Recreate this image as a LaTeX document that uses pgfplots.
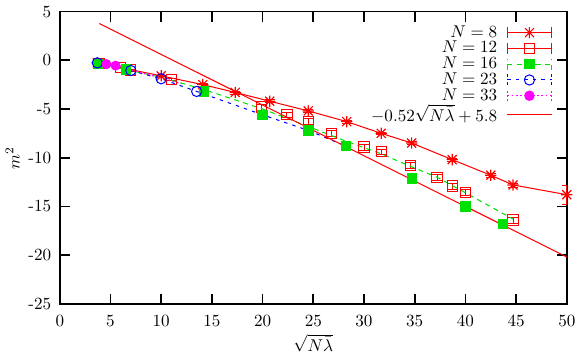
\documentclass[border=0pt]{standalone}
\usepackage{pgfplots}
\pgfplotsset{compat=1.18}
\definecolor{gred}{rgb}{1,0,0}
\definecolor{ggreen}{rgb}{0,0.88,0}
\definecolor{gblue}{rgb}{0,0,1}
\definecolor{gmag}{rgb}{1,0,1}
\pgfdeclareplotmark{gstar}{%
  \pgfpathmoveto{\pgfqpoint{-\pgfplotmarksize}{0pt}}\pgfpathlineto{\pgfqpoint{\pgfplotmarksize}{0pt}}%
  \pgfpathmoveto{\pgfqpoint{0pt}{-\pgfplotmarksize}}\pgfpathlineto{\pgfqpoint{0pt}{\pgfplotmarksize}}%
  \pgfpathmoveto{\pgfqpoint{-0.8\pgfplotmarksize}{-0.8\pgfplotmarksize}}\pgfpathlineto{\pgfqpoint{0.8\pgfplotmarksize}{0.8\pgfplotmarksize}}%
  \pgfpathmoveto{\pgfqpoint{-0.8\pgfplotmarksize}{0.8\pgfplotmarksize}}\pgfpathlineto{\pgfqpoint{0.8\pgfplotmarksize}{-0.8\pgfplotmarksize}}%
  \pgfusepathqstroke}
\pgfplotsset{
  gkey/.style={legend image code/.code={%
    \draw (0pt,0pt) -- (26pt,0pt);
    \draw (0pt,-3.2pt) -- (0pt,3.2pt) (26pt,-3.2pt) -- (26pt,3.2pt);
    \draw plot[only marks, mark options={solid}] coordinates {(13pt,0pt)};
  }},
  fkey/.style={legend image code/.code={\draw (0pt,0pt) -- (26pt,0pt);}},
}
\pgfplotstableread{
x y e
3.7 -0.27 0.05
10.0 -1.6 0.1
14.1 -2.5 0.15
17.3 -3.3 0.15
20.7 -4.2 0.15
24.5 -5.2 0.15
28.3 -6.3 0.15
31.7 -7.5 0.15
34.7 -8.5 0.15
38.7 -10.2 0.15
42.5 -11.8 0.2
44.7 -12.8 0.2
50.0 -13.8 1.0
}\neight
\pgfplotstableread{
x y e
3.9 -0.3 0.1
6.0 -0.75 0.1
7.0 -1.0 0.1
11.0 -2.0 0.1
19.9 -4.8 0.3
22.4 -5.6 0.3
24.5 -6.3 0.3
26.8 -7.5 0.3
30.0 -8.9 0.3
31.7 -9.4 0.3
34.6 -10.8 0.3
37.2 -12.0 0.3
38.7 -12.9 0.3
40.0 -13.6 0.3
44.7 -16.4 0.3
}\ntwelve
\pgfplotstableread{
x y
3.8 -0.35
6.5 -0.95
14.2 -3.2
20.0 -5.6
24.5 -7.2
28.2 -8.8
34.7 -12.1
40.0 -15.0
43.7 -16.8
}\nsixteen
\pgfplotstableread{
x y
3.8 -0.3
5.0 -0.55
6.5 -0.95
10.0 -1.75
14.2 -3.0
20.0 -5.0
24.5 -6.8
28.2 -8.3
31.7 -9.6
34.6 -10.9
37.2 -12.0
40.0 -13.6
44.7 -16.3
}\greenline
\pgfplotstableread{
x y
3.7 -0.27
7.0 -1.05
10.0 -1.9
13.5 -3.2
}\ntwentythree
\pgfplotstableread{
x y
3.7 -0.27
7.0 -1.05
10.0 -1.9
13.5 -3.2
20.0 -5.6
24.5 -7.2
28.2 -8.8
}\blueline
\pgfplotstableread{
x y
4.6 -0.4
5.5 -0.55
}\nthirtythree
\pgfplotstableread{
x y
4.6 -0.4
5.5 -0.55
7.0 -1.0
10.0 -1.8
12.0 -2.4
}\magline
\pgfplotstableread{
x y
3.9 3.77
50.0 -20.2
}\fitline
\begin{document}
\begin{tikzpicture}
\begin{axis}[
  scale only axis, width=297pt, height=171.2pt,
  xmin=0, xmax=50, ymin=-25, ymax=5,
  xtick={0,5,...,50}, ytick={-25,-20,...,5},
  xticklabels={0,5,10,15,20,25,30,35,40,45,50},
  yticklabels={-25,-20,-15,-10,-5,0,5},
  tick align=inside, major tick length=5.9pt,
  every tick/.style={black, line width=1pt},
  axis line style={line width=1.1pt},
  xticklabel style={yshift=-3pt},
  yticklabel style={xshift=-1.5pt},
  xlabel={$\sqrt{N\bar\lambda}$}, ylabel={$m^2$},
  every axis x label/.append style={at={(axis description cs:0.5,-0.135)}, anchor=center},
  every axis y label/.append style={at={(axis description cs:-0.093,0.5)}, anchor=center},
  legend plot pos=right, legend cell align=right,
  legend style={draw=none, fill=none, at={(rel axis cs:0.972,0.962)}, anchor=north east,
    inner sep=0pt, row sep=-2.1pt, column sep=4pt, nodes={inner sep=1.5pt}},
  error bars/error bar style={solid, line width=0.5pt},
]
\coordinate (sw) at (rel axis cs:0,0);
% N=8
\addplot[gred, line width=0.6pt, mark=gstar, mark size=3.3pt, mark options={solid, line width=0.7pt}, forget plot,
  error bars/.cd, y dir=both, y explicit, error mark options={rotate=90, mark size=3pt, gred}]
  table[x=x, y=y, y error=e]{\neight};
% N=12
\addplot[gred, only marks, line width=0.6pt, mark=square, mark size=3pt, forget plot,
  error bars/.cd, y dir=both, y explicit, error mark options={rotate=90, mark size=2.8pt, gred}]
  table[x=x, y=y, y error=e]{\ntwelve};
% N=16 line and marks
\addplot[ggreen, line width=0.6pt, dash pattern=on 3pt off 2.5pt, forget plot] table[x=x,y=y]{\greenline};
\addplot[ggreen, only marks, mark=square*, mark size=2.8pt, mark options={solid, fill=ggreen, draw=ggreen}, forget plot]
  table[x=x, y=y]{\nsixteen};
% N=23
\addplot[gblue, line width=0.6pt, dash pattern=on 2pt off 3pt, forget plot] table[x=x,y=y]{\blueline};
\addplot[gblue, only marks, mark=o, mark size=3pt, mark options={solid, line width=0.6pt}, forget plot]
  table[x=x, y=y]{\ntwentythree};
% N=33
\addplot[gmag, line width=0.7pt, dash pattern=on 1pt off 1.5pt, forget plot] table[x=x,y=y]{\magline};
\addplot[gmag, only marks, mark=*, mark size=2.7pt, mark options={solid, fill=gmag, draw=gmag}, forget plot]
  table[x=x, y=y]{\nthirtythree};
% fit
\addplot[gred, line width=0.6pt, forget plot] table[x=x,y=y]{\fitline};
% legend
\addlegendimage{gred, solid, line width=0.6pt, mark=gstar, mark size=3.3pt, gkey}
\addlegendentry{$N=8$}
\addlegendimage{gred, solid, line width=0.6pt, mark=square, mark size=3pt, gkey}
\addlegendentry{$N=12$}
\addlegendimage{ggreen, line width=0.6pt, dash pattern=on 3pt off 2.5pt, mark=square*, mark size=2.8pt, gkey}
\addlegendentry{$N=16$}
\addlegendimage{gblue, line width=0.6pt, dash pattern=on 2pt off 3pt, mark=o, mark size=3pt, gkey}
\addlegendentry{$N=23$}
\addlegendimage{gmag, line width=0.7pt, dash pattern=on 1pt off 1.5pt, mark=*, mark size=2.7pt, gkey}
\addlegendentry{$N=33$}
\addlegendimage{gred, solid, line width=0.6pt, fkey}
\addlegendentry{$-0.52\sqrt{N\bar\lambda}+5.8$}
\end{axis}
\end{tikzpicture}
\end{document}
